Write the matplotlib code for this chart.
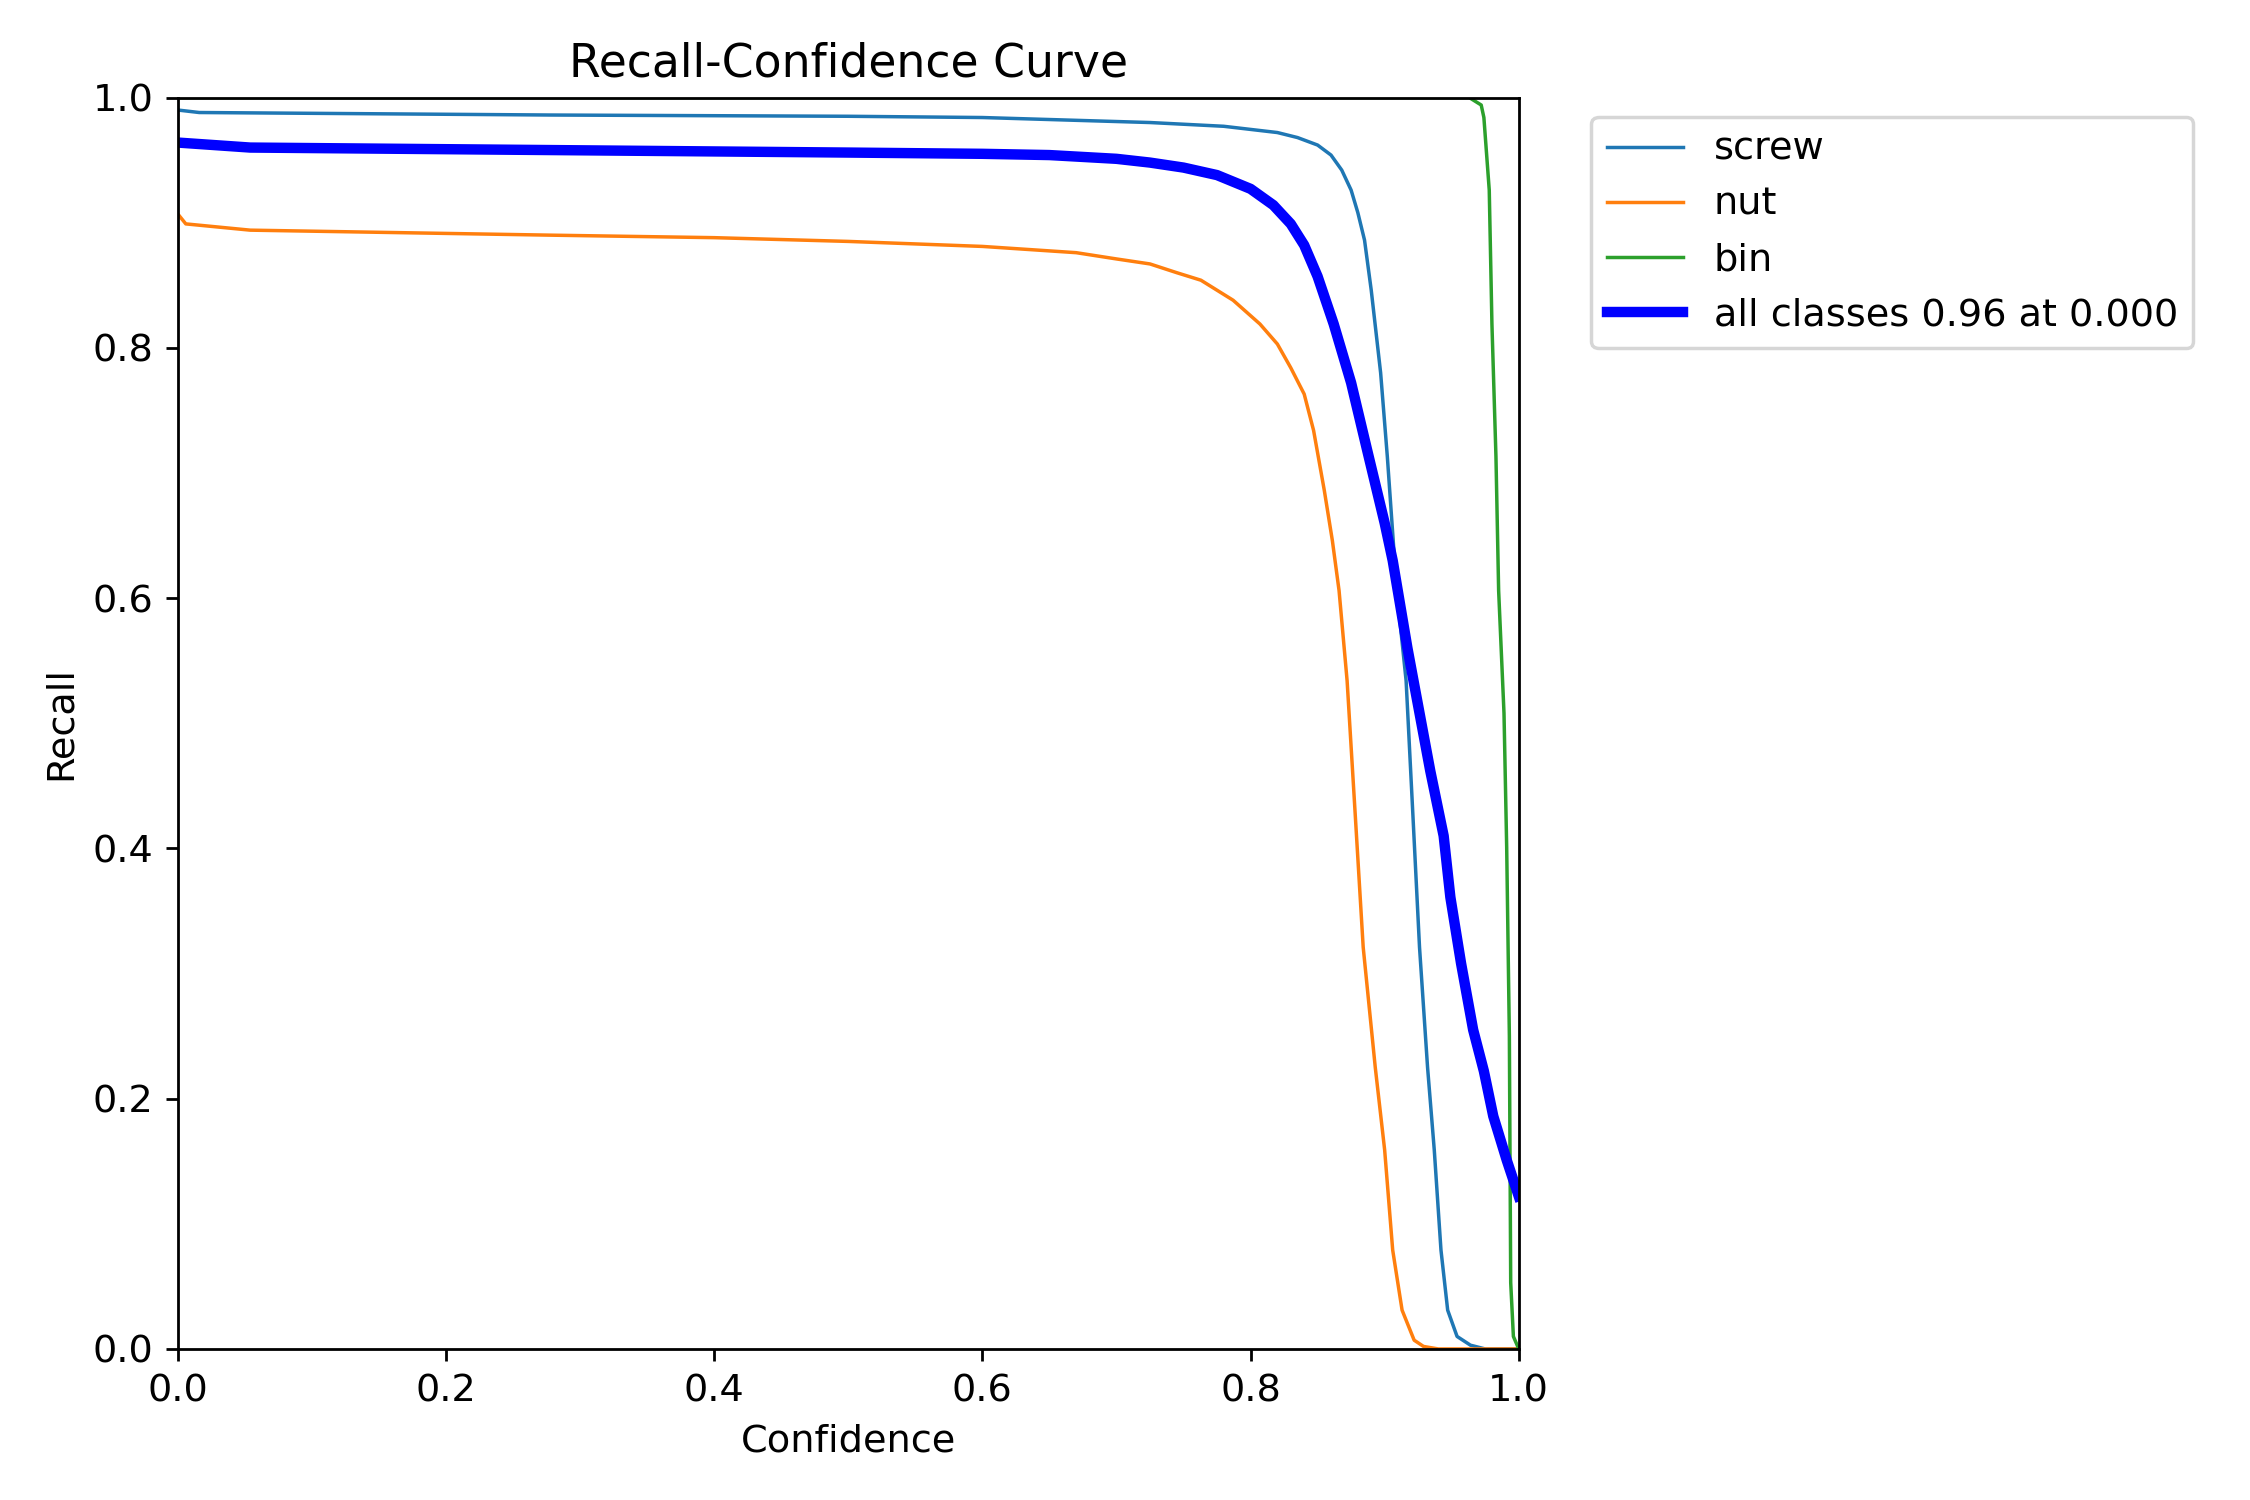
import numpy as np
import matplotlib
matplotlib.use("Agg")
import matplotlib.pyplot as plt

plt.rcParams["font.size"] = 11

# values (confidence, recall)
screw_x = [0.0, 0.016, 0.278, 0.5, 0.6, 0.725, 0.78, 0.82, 0.835, 0.85, 0.86, 0.868, 0.875,
           0.880, 0.885, 0.890, 0.897, 0.902, 0.909, 0.916, 0.921, 0.926, 0.932, 0.937,
           0.942, 0.947, 0.954, 0.964, 0.975, 1.0]
screw_y = [0.990, 0.988, 0.986, 0.985, 0.984, 0.980, 0.977, 0.972, 0.968, 0.962, 0.954, 0.942,
           0.926, 0.908, 0.886, 0.846, 0.780, 0.713, 0.606, 0.534, 0.428, 0.321, 0.225,
           0.159, 0.079, 0.031, 0.010, 0.003, 0.0, 0.0]

nut_x = [0.0, 0.006, 0.054, 0.278, 0.4, 0.5, 0.6, 0.67, 0.70, 0.725, 0.745, 0.763, 0.787,
         0.807, 0.820, 0.830, 0.840, 0.847, 0.855, 0.861, 0.866, 0.872, 0.878, 0.884,
         0.893, 0.900, 0.906, 0.913, 0.922, 0.929, 0.94, 1.0]
nut_y = [0.907, 0.899, 0.894, 0.890, 0.888, 0.885, 0.881, 0.876, 0.871, 0.867, 0.860, 0.854,
         0.838, 0.819, 0.803, 0.784, 0.763, 0.734, 0.686, 0.646, 0.606, 0.534, 0.428,
         0.321, 0.225, 0.159, 0.079, 0.031, 0.007, 0.002, 0.0, 0.0]

bin_x = [0.0, 0.963, 0.972, 0.974, 0.978, 0.980, 0.983, 0.985, 0.989, 0.991, 0.993, 0.994,
         0.996, 1.0]
bin_y = [1.0, 1.0, 0.994, 0.984, 0.926, 0.819, 0.713, 0.606, 0.508, 0.401, 0.250, 0.053,
         0.010, 0.0]

all_x = [0.0, 0.054, 0.278, 0.5, 0.6, 0.65, 0.7, 0.725, 0.75, 0.775, 0.80, 0.817, 0.830,
         0.840, 0.850, 0.862, 0.875, 0.887, 0.900, 0.906, 0.917, 0.934, 0.944, 0.949,
         0.957, 0.966, 0.974, 0.981, 0.991, 1.0]
all_y = [0.964, 0.960, 0.958, 0.956, 0.955, 0.954, 0.951, 0.948, 0.944, 0.938, 0.927, 0.914,
         0.899, 0.882, 0.857, 0.819, 0.772, 0.718, 0.660, 0.630, 0.560, 0.462, 0.410,
         0.361, 0.308, 0.255, 0.222, 0.186, 0.151, 0.122]

class_names = ["screw", "nut", "bin"]
all_label = "all classes 0.96 at 0.000"

fig, ax = plt.subplots(1, 1, figsize=(9, 6), dpi=250)
fig.subplots_adjust(left=0.079, right=0.675, bottom=0.1007, top=0.935)

for name, xs, ys in zip(class_names, [screw_x, nut_x, bin_x], [screw_y, nut_y, bin_y]):
    ax.plot(xs, ys, linewidth=1, label=name)

ax.plot(all_x, all_y, linewidth=3, color="blue", label=all_label)

ax.set_xlabel("Confidence")
ax.set_ylabel("Recall")
ax.set_xlim(0, 1)
ax.set_ylim(0, 1)
ax.legend(bbox_to_anchor=(1.04, 1), loc="upper left")
ax.set_title("Recall-Confidence Curve")

fig.savefig("out.png", dpi=250)
